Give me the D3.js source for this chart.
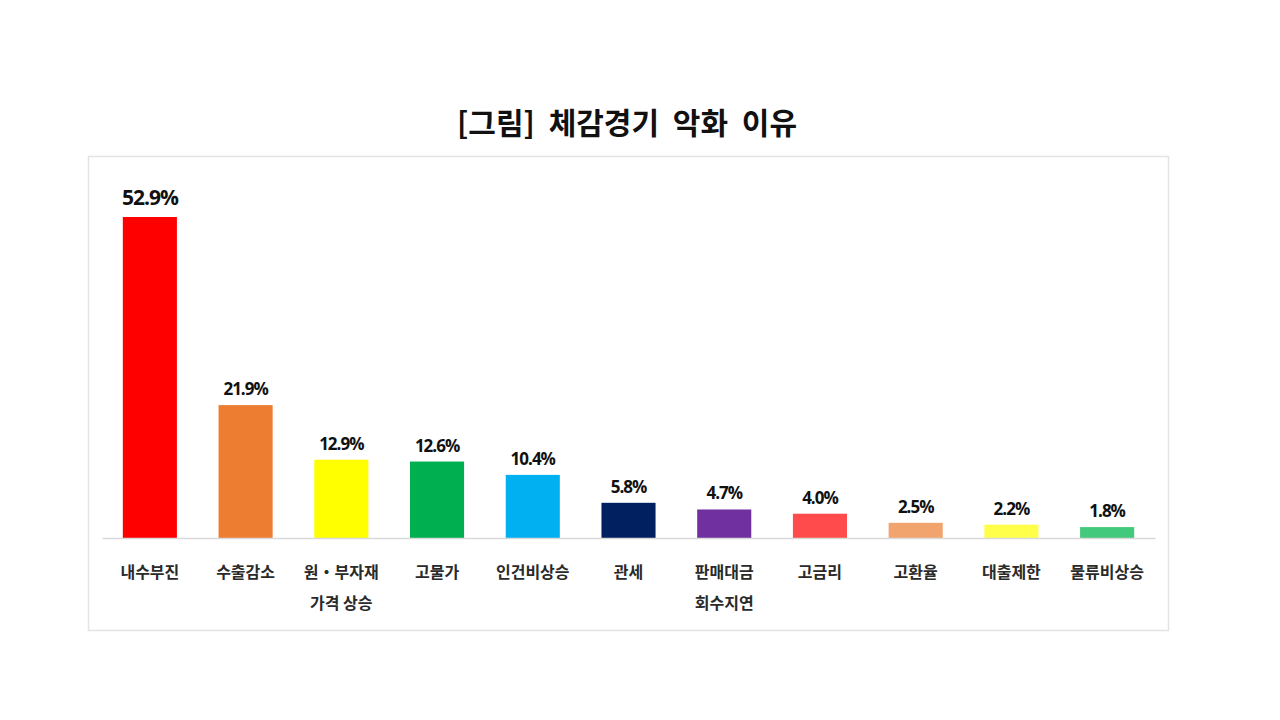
<!DOCTYPE html>
<html>
<head>
<meta charset="utf-8">
<script src="https://cdn.jsdelivr.net/npm/d3@7"></script>
<style>
  body { margin: 0; background: #fff; }
</style>
</head>
<body>
<div id="chart"></div>
<script>
// data
const categories = ["내수부진", "수출감소", "원・부자재\n가격 상승", "고물가", "인건비상승", "관세",
                    "판매대금\n회수지연", "고금리", "고환율", "대출제한", "물류비상승"];
const values = [52.9, 21.9, 12.9, 12.6, 10.4, 5.8, 4.7, 4.0, 2.5, 2.2, 1.8];
const barColors = ["#FF0000", "#ED7D31", "#FFFF00", "#00B050", "#00B0F0", "#002060",
                   "#7030A0", "#FF4B4B", "#F2A46E", "#FFFF4A", "#43C97B"];
const title = "[그림] 체감경기 악화 이유";

const width = 1280, height = 720;
const kr = "'Noto Sans CJK KR', 'Noto Sans', sans-serif";

const svg = d3.select("#chart")
    .append("svg")
    .attr("width", width)
    .attr("height", height);

// outer frame
svg.append("rect")
    .attr("x", 88.5).attr("y", 156.5)
    .attr("width", 1080).attr("height", 474)
    .attr("fill", "none")
    .attr("stroke", "#e3e3e3")
    .attr("stroke-width", 1.5);

// title
svg.append("text")
    .attr("x", 627).attr("y", 134)
    .attr("text-anchor", "middle")
    .attr("font-family", kr)
    .attr("font-weight", "bold")
    .attr("font-size", 30)
    .attr("word-spacing", 7)
    .attr("fill", "#111")
    .text(title);

let baseline = 538;

let xScale = d3.scaleBand()
    .domain(categories)
    .range([102, 1155])
    .paddingInner(0.435)
    .paddingOuter(0.2175);

let yScale = d3.scaleLinear()
    .domain([0, 52.9])
    .range([baseline, 217]);

// bars
svg.selectAll("rect.bar")
    .data(values)
    .enter()
    .append("rect")
    .attr("class", "bar")
    .attr("x", (d, i) => xScale(categories[i]))
    .attr("y", d => yScale(d))
    .attr("width", xScale.bandwidth())
    .attr("height", d => baseline - yScale(d))
    .attr("fill", (d, i) => barColors[i]);

// x axis line (no ticks)
svg.append("g")
    .attr("transform", "translate(0," + baseline + ")")
    .call(d3.axisBottom(xScale).tickSize(0).tickFormat(""))
    .call(g => g.select(".domain").attr("stroke", "#d9d9d9").attr("stroke-width", 1.5));

// value labels
svg.selectAll("text.val")
    .data(values)
    .enter()
    .append("text")
    .attr("class", "val")
    .attr("x", (d, i) => xScale(categories[i]) + xScale.bandwidth() / 2)
    .attr("y", (d, i) => yScale(d) - (i == 0 ? 12 : 10))
    .attr("text-anchor", "middle")
    .attr("font-family", "'Open Sans', 'Noto Sans', sans-serif")
    .attr("font-weight", "bold")
    .attr("font-size", (d, i) => i == 0 ? 21 : 17)
    .attr("letter-spacing", -1)
    .attr("fill", "#111")
    .text(d => d.toFixed(1) + "%");

// category labels, may be two lines
let labels = svg.selectAll("text.cat")
    .data(categories)
    .enter()
    .append("text")
    .attr("class", "cat")
    .attr("x", d => xScale(d) + xScale.bandwidth() / 2)
    .attr("y", 578)
    .attr("text-anchor", "middle")
    .attr("font-family", kr)
    .attr("font-weight", "bold")
    .attr("font-size", 16)
    .attr("fill", "#2a2a2a");

labels.each(function(d) {
    let lines = d.split("\n");
    let t = d3.select(this);
    lines.forEach(function(line, k) {
        t.append("tspan")
            .attr("x", t.attr("x"))
            .attr("dy", k == 0 ? 0 : 31)
            .text(line);
    });
});
</script>
</body>
</html>
